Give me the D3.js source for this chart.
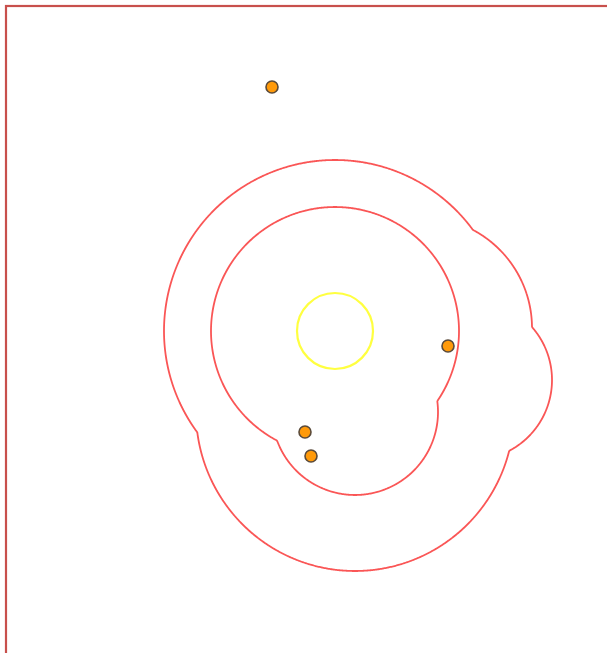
<!DOCTYPE html>
<html><head><meta charset="utf-8">
<script src="https://cdn.jsdelivr.net/npm/d3@7"></script>
<style>html,body{margin:0;padding:0;background:#fff;overflow:hidden}</style>
</head><body><svg id="chart" width="607" height="653"></svg>
<script>
// Data (units relative to the central site)
const lobeX = [0, 20, 137, 86];
const lobeY = [0, -81, -49, 3];
const innerRadius = [124, 83, 0, 0];
const outerRadius = [171, 159, 80, 111];
const pointX = [-63, -30, -24, 113];
const pointY = [244, -101, -125, -15];
const coreRadius = 38;

const W = 607, H = 653;
const x = d3.scaleLinear().domain([-335, 272]).range([0, W]);
const y = d3.scaleLinear().domain([331, -322]).range([0, H]);
const k = Math.abs(x(1) - x(0));

const svg = d3.select("#chart");

svg.append("rect").attr("x", 6).attr("y", 6).attr("width", 640).attr("height", 700)
  .attr("fill", "none").attr("stroke", "#c8504c").attr("stroke-width", 2.2);

function ringContour(radii) {
  const lobes = lobeX.map((d, i) => ({cx: x(d), cy: y(lobeY[i]), r: radii[i] * k})).filter(l => l.r > 0);
  const values = new Float64Array(W * H);
  for (let j = 0; j < H; j++) {
    const py = j + 0.5;
    for (let i = 0; i < W; i++) {
      const px = i + 0.5;
      let v = -Infinity;
      for (const l of lobes) {
        const s = l.r - Math.hypot(px - l.cx, py - l.cy);
        if (s > v) v = s;
      }
      values[j * W + i] = v;
    }
  }
  return d3.contours().size([W, H]).thresholds([0])(values)[0];
}

const path = d3.geoPath();
[innerRadius, outerRadius].forEach(radii => {
  svg.append("path").attr("d", path(ringContour(radii)))
    .attr("fill", "none").attr("stroke", "#fa5656").attr("stroke-width", 1.8)
    .attr("stroke-linejoin", "round");
});

svg.append("circle").attr("cx", x(0)).attr("cy", y(0)).attr("r", coreRadius * k)
  .attr("fill", "none").attr("stroke", "#ffff40").attr("stroke-width", 2.2);

svg.selectAll("circle.pt").data(pointX.map((d, i) => [d, pointY[i]])).join("circle")
  .attr("class", "pt")
  .attr("cx", d => x(d[0])).attr("cy", d => y(d[1])).attr("r", 6)
  .attr("fill", "#ff9a0a").attr("stroke", "#5a4a3a").attr("stroke-width", 1.6);
</script>
</body></html>
